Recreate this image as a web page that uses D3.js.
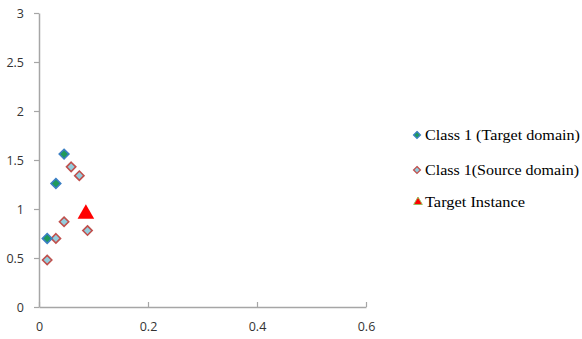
<!DOCTYPE html>
<html>
<head>
<meta charset="utf-8">
<script src="https://cdn.jsdelivr.net/npm/d3@7"></script>
<style>
  html, body { margin: 0; padding: 0; background: #fff; }
  svg { display: block; }
</style>
</head>
<body>
<svg id="chart" width="582" height="339"></svg>
<script>
// Class 1 samples in the target domain
const targetX = [0.046, 0.031, 0.015];
const targetY = [1.56, 1.26, 0.70];
// Class 1 samples in the source domain
const sourceX = [0.059, 0.074, 0.046, 0.031, 0.015, 0.089];
const sourceY = [1.43, 1.34, 0.87, 0.70, 0.48, 0.78];
// The target instance
const instX = [0.086];
const instY = [0.95];

const xTicks = [0, 0.2, 0.4, 0.6];
const yTicks = [0, 0.5, 1, 1.5, 2, 2.5, 3];
const legendLabels = ["Class 1 (Target domain)", "Class 1(Source domain)", "Target Instance"];

const svg = d3.select("#chart");
const x = d3.scaleLinear().domain([0, 0.6]).range([39, 366]);
const y = d3.scaleLinear().domain([0, 3]).range([307, 13]);

const axisColor = "#a6a6a6";
const tickFont = "Open Sans, Liberation Sans, sans-serif";

const gx = svg.append("g").attr("transform", `translate(0,${y(0)})`)
  .call(d3.axisBottom(x).tickValues(xTicks).tickSize(5).tickSizeOuter(0).tickFormat(d3.format("")));
const gy = svg.append("g").attr("transform", `translate(${x(0)},0)`)
  .call(d3.axisLeft(y).tickValues(yTicks).tickSize(5).tickSizeOuter(0).tickFormat(d3.format("")));

[gx, gy].forEach(g => {
  g.select(".domain").attr("stroke", axisColor).attr("stroke-width", 1.5);
  g.selectAll(".tick line").attr("stroke", axisColor).attr("stroke-width", 1.2);
  g.selectAll(".tick text").attr("fill", "#333")
    .style("font-family", tickFont).style("font-size", "12.5px");
});
gx.selectAll(".tick text").attr("dy", "1.25em");
gy.selectAll(".tick line").attr("x2", -5);
gx.selectAll(".tick line").attr("y2", -5);
gy.selectAll(".tick text").attr("x", -15);

const diamond = d3.symbol().type(d3.symbolDiamond2);

// Source domain diamonds
svg.append("g").selectAll("path")
  .data(d3.zip(sourceX, sourceY)).join("path")
  .attr("d", diamond.size(55)())
  .attr("transform", d => `translate(${x(d[0])},${y(d[1])})`)
  .attr("fill", "#93cddd").attr("stroke", "#c0504d").attr("stroke-width", 1.6);

// Target domain diamonds
svg.append("g").selectAll("path")
  .data(d3.zip(targetX, targetY)).join("path")
  .attr("d", diamond.size(60)())
  .attr("transform", d => `translate(${x(d[0])},${y(d[1])})`)
  .attr("fill", "#1f9a5c").attr("stroke", "#3b7fc4").attr("stroke-width", 1.6);

// Target instance triangle
svg.append("g").selectAll("path")
  .data(d3.zip(instX, instY)).join("path")
  .attr("d", d3.symbol().type(d3.symbolTriangle).size(120)())
  .attr("transform", d => `translate(${x(d[0])},${y(d[1])})`)
  .attr("fill", "#ff0000");

// Legend
const legend = svg.append("g").attr("transform", "translate(417,135)");
const rowOffsets = [0, 35, 67];
const textWidths = [155, 154, 100];
const rows = legend.selectAll("g").data(legendLabels).join("g")
  .attr("transform", (d, i) => `translate(0,${rowOffsets[i]})`);
rows.each(function (d, i) {
  const g = d3.select(this);
  if (i === 0) {
    g.append("path").attr("d", diamond.size(30)())
      .attr("fill", "#1f9a5c").attr("stroke", "#3b7fc4").attr("stroke-width", 1.3);
  } else if (i === 1) {
    g.append("path").attr("d", diamond.size(30)())
      .attr("fill", "#93cddd").attr("stroke", "#c0504d").attr("stroke-width", 1.3);
  } else {
    g.append("path").attr("transform", "translate(1,0)")
      .attr("d", d3.symbol().type(d3.symbolTriangle).size(32)())
      .attr("fill", "#ff0000").attr("stroke", "#9bbb59").attr("stroke-width", 1);
  }
  g.append("text").attr("x", 8).attr("dy", "0.35em")
    .attr("fill", "#000")
    .attr("textLength", textWidths[i]).attr("lengthAdjust", "spacingAndGlyphs")
    .style("font-family", "Liberation Serif, Times New Roman, serif")
    .style("font-size", "15px")
    .text(d);
});
</script>
</body>
</html>
